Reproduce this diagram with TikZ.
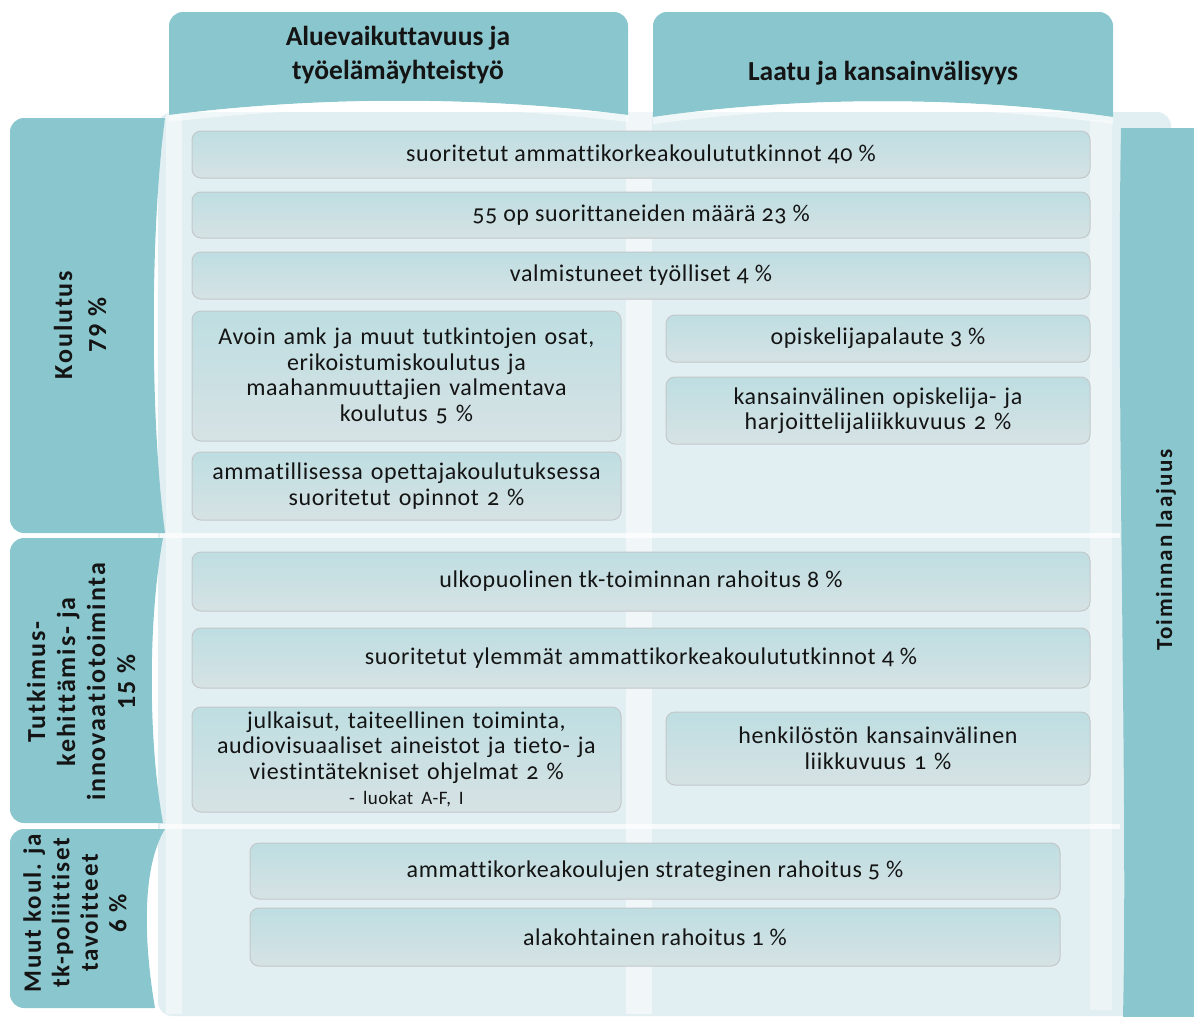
\documentclass[tikz,border=0pt]{standalone}
\usepackage{fontspec}
\setmainfont{Carlito}[Numbers=OldStyle,Ligatures=NoCommon]
\definecolor{tabc}{HTML}{8AC6CD}
\definecolor{panel}{HTML}{E2EFF2}
\definecolor{boxtop}{HTML}{BEDEE2}
\definecolor{boxbot}{HTML}{D6E2E4}
\definecolor{boxline}{HTML}{C3C8CA}
\definecolor{txt}{HTML}{141414}
\tikzset{
  tabfill/.style={fill=tabc},
  box/.style={draw=boxline, line width=1pt, rounded corners=9pt, top color=boxtop, bottom color=boxbot,
    align=center, text=txt, inner sep=2pt, font=\fontsize{24}{25.5}\selectfont\addfontfeatures{LetterSpace=2.5}},
  hdr/.style={align=center, text=txt, font=\fontsize{27.5}{34}\selectfont\bfseries},
  side/.style={align=center, text=txt, rotate=90, font=\fontsize{26}{34}\selectfont\bfseries\addfontfeatures{Numbers=Lining,LetterSpace=7}},
}
\begin{document}
\begin{tikzpicture}[x=1pt,y=-1pt]
\useasboundingbox (0,0) rectangle (1194,1017);
% light panel
\fill[panel, rounded corners=14pt] (158,112) rectangle (1171,1016);
% lighter column strips
\fill[white, opacity=0.45] (166,110) rectangle (182,1014);
\fill[white, opacity=0.55] (626,110) rectangle (652,1014);
\fill[white, opacity=0.35] (1090,120) rectangle (1112,1010);
% row separators
\fill[white, opacity=0.7] (160,533) rectangle (1120,538);
\fill[white, opacity=0.7] (160,824) rectangle (1120,829);
% header tabs
\fill[tabfill] (169,115) [rounded corners=14pt] -- (169,12) -- (628,12) [sharp corners] -- (628,115)
  .. controls (480,96) and (320,96) .. (169,115) -- cycle;
\fill[tabfill] (653,117) [rounded corners=14pt] -- (653,12) -- (1113,12) [sharp corners] -- (1113,117)
  .. controls (965,96) and (800,96) .. (653,117) -- cycle;
% highlight under header arches
\fill[white, opacity=0.5] (169,115) .. controls (320,96) and (480,96) .. (628,115) -- (628,122)
  .. controls (480,104) and (320,104) .. (169,122) -- cycle;
\fill[white, opacity=0.5] (653,117) .. controls (800,96) and (965,96) .. (1113,117) -- (1113,124)
  .. controls (965,104) and (800,104) .. (653,124) -- cycle;
% side tabs
\fill[tabfill] (165,118) [rounded corners=14pt] -- (10,118) -- (10,533) [sharp corners] -- (165,533)
  .. controls (150,420) and (150,230) .. (165,118) -- cycle;
\fill[tabfill] (163,538) [rounded corners=14pt] -- (10,538) -- (10,823) [sharp corners] -- (163,823)
  .. controls (148,740) and (148,620) .. (163,538) -- cycle;
\fill[tabfill] (165,829) [rounded corners=14pt] -- (10,829) -- (10,1008) [sharp corners] -- (155,1008)
  .. controls (145,950) and (140,870) .. (165,829) -- cycle;
% right tab
\fill[tabfill] (1121,128) -- (1194,128) -- (1194,1017) -- (1123,1017)
  .. controls (1128,800) and (1116,400) .. (1121,128) -- cycle;
% labels
\node[hdr] (h1) at (398,55) {Aluevaikuttavuus ja\\työelämäyhteistyö};
\node[hdr] (h2) at (883,73) {Laatu ja kansainvälisyys};
\node[side] (s1) at (80,325) {Koulutus\\79 \%};
\node[side, font=\fontsize{26}{30}\selectfont\bfseries\addfontfeatures{Numbers=Lining,LetterSpace=7}] (s2) at (81,682) {Tutkimus-\\kehittämis- ja\\innovaatiotoiminta\\15 \%};
\node[side, font=\fontsize{25}{28.5}\selectfont\bfseries\addfontfeatures{Numbers=Lining,LetterSpace=7}] (s3) at (75,913) {Muut koul. ja\\tk-poliittiset\\tavoitteet\\6 \%};
\node[side, font=\fontsize{23}{26}\selectfont\bfseries\addfontfeatures{LetterSpace=8}] (s4) at (1166,550) {Toiminnan laajuus};
% boxes
\node[box, minimum width=898pt, minimum height=47pt] (b1) at (641,154.5) {suoritetut ammattikorkeakoulututkinnot 40 \%};
\node[box, minimum width=898pt, minimum height=46pt] (b2) at (641,215) {55 op suorittaneiden määrä 23 \%};
\node[box, minimum width=898pt, minimum height=47pt] (b3) at (641,275.5) {valmistuneet työlliset 4 \%};
\node[box, minimum width=429pt, minimum height=130pt, text width=419pt] (b4) at (406.5,376) {Avoin amk ja muut tutkintojen osat,\\erikoistumiskoulutus ja\\maahanmuuttajien valmentava\\koulutus 5 \%};
\node[box, minimum width=429pt, minimum height=68pt, text width=419pt] (b5) at (406.5,486) {ammatillisessa opettajakoulutuksessa\\suoritetut opinnot 2 \%};
\node[box, minimum width=424pt, minimum height=47pt] (b6) at (878,338.5) {opiskelijapalaute 3 \%};
\node[box, minimum width=424pt, minimum height=67pt, text width=414pt] (b7) at (878,410.5) {kansainvälinen opiskelija- ja\\harjoittelijaliikkuvuus 2 \%};
\node[box, minimum width=898pt, minimum height=59pt] (b8) at (641,581.5) {ulkopuolinen tk-toiminnan rahoitus 8 \%};
\node[box, minimum width=898pt, minimum height=60pt] (b9) at (641,658) {suoritetut ylemmät ammattikorkeakoulututkinnot 4 \%};
\node[box, minimum width=429pt, minimum height=105pt, text width=419pt] (b10) at (406.5,759.5) {julkaisut, taiteellinen toiminta,\\audiovisuaaliset aineistot ja tieto- ja\\viestintätekniset ohjelmat 2 \%\\{\fontsize{19}{25}\selectfont - luokat A-F, I}};
\node[box, minimum width=424pt, minimum height=73pt, text width=414pt] (b11) at (878,748.5) {henkilöstön kansainvälinen\\liikkuvuus 1 \%};
\node[box, minimum width=810pt, minimum height=56pt] (b12) at (655,871) {ammattikorkeakoulujen strateginen rahoitus 5 \%};
\node[box, minimum width=810pt, minimum height=58pt] (b13) at (655,937) {alakohtainen rahoitus 1 \%};
\end{tikzpicture}
\end{document}
